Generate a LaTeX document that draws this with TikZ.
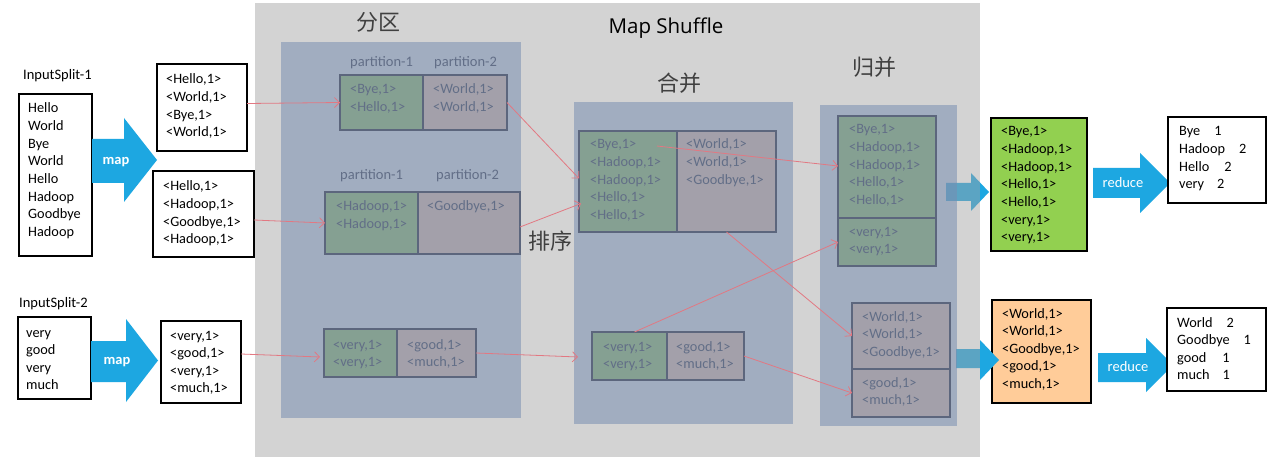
\documentclass[tikz,border=0pt]{standalone}
\usepackage{fontspec}
\setmainfont{Carlito}
\newfontfamily\titlefont{Open Sans}
\newfontfamily\cjk{Noto Sans CJK SC}
\usetikzlibrary{arrows.meta,calc}

\definecolor{flowblue}{RGB}{29,167,225}
\definecolor{shadegray}{RGB}{162,162,162}
\definecolor{panelblue}{RGB}{120,142,178}
\definecolor{keygreen}{RGB}{133,160,146}
\definecolor{keygray}{RGB}{163,160,170}
\definecolor{keyedge}{RGB}{92,102,125}
\definecolor{keytext}{RGB}{98,110,135}
\definecolor{linkred}{RGB}{226,120,130}
\definecolor{outgreen}{RGB}{146,208,80}
\definecolor{outorange}{RGB}{255,204,153}
\definecolor{cjkgray}{RGB}{64,64,64}

% rectangle node given by its corners (x1,y1) and (x2,y2)
\newcommand{\rbox}[6]{%
  \node[#6, anchor=north west, inner sep=0pt, outer sep=0pt,
        minimum width={(#4-#2)*1pt}, minimum height={(#5-#3)*1pt}] (#1) at (#2,#3) {};}
% block arrow: body x1..xh between yt..yb, head at xh between ht..hb, tip at xt
\newcommand{\blockarrow}[7]{%
  \fill[flowblue] (#1,#2) -- (#4,#2) -- (#4,#5) -- (#7,{(#5+#6)/2}) -- (#4,#6) -- (#4,#3) -- (#1,#3) -- cycle;}

\tikzset{
  plainbox/.style={draw=black, line width=1.3pt, fill=white},
  greenpart/.style={draw=keyedge, line width=1.5pt, fill=keygreen},
  graypart/.style={draw=keyedge, line width=1.5pt, fill=keygray},
  % text blocks are placed at the baseline of their first line;
  % nl=<n> moves the block so that n lines hang below that point
  txt/.style={inner sep=0pt, align=left, anchor=base west, font=\fontsize{14.3}{17.6}\selectfont},
  nl/.style={yshift={-(#1-1)*17.6pt}},
  ktxt/.style={txt, text=keytext},
  tagtext/.style={inner sep=0pt, anchor=base west, font=\fontsize{14.5}{17}\selectfont},
  cjklabel/.style={inner sep=0pt, font=\cjk\fontsize{22}{24}\selectfont, text=cjkgray},
  arrowlabel/.style={inner sep=0pt, text=white, font=\fontsize{14.5}{17}\selectfont},
  link/.style={draw=linkred, line width=0.8pt, -{Straight Barb[length=5pt,width=10pt]}}
}

\begin{document}
\begin{tikzpicture}[x=1pt, y=-1pt]
\useasboundingbox (0,0) rectangle (1280,457);
\fill[white] (0,0) rectangle (1280,457);

% ---------- output buffers (drawn first, the arrows overlap their edge) ----------
\rbox{outA}{991}{118}{1087}{251}{draw=black, line width=1.3pt, fill=outgreen}
\rbox{outB}{992}{300}{1091}{403}{draw=black, line width=1.3pt, fill=outorange}

% ---------- arrows leading out of the merge stage ----------
\blockarrow{946}{183}{201}{971}{173}{211}{989}
\blockarrow{956}{349}{368}{980}{340}{380}{999}

% ---------- shuffle area and its three stages ----------
\fill[shadegray, fill opacity=0.47] (255,3) rectangle (980,457);
\fill[panelblue, fill opacity=0.55] (281,42) rectangle (521,418);
\fill[panelblue, fill opacity=0.55] (574,102) rectangle (793,424);
\fill[panelblue, fill opacity=0.55] (820,105) rectangle (957,426);

\node[inner sep=0pt, font=\titlefont\fontsize{20.5}{24}\selectfont] (title) at (666,28) {Map Shuffle};
\node[cjklabel] (hPart) at (378,22) {分区};
\node[cjklabel] (hSort) at (550,241) {排序};
\node[cjklabel] (hCombine) at (679,83) {合并};
\node[cjklabel] (hMerge) at (874,67) {归并};

% ---------- input splits ----------
\node[tagtext] (s1title) at (23,80) {InputSplit-1};
\rbox{in1}{19}{94}{92}{256}{plainbox}
\node[txt, nl=8] (in1t) at (28,113) {Hello\\World\\Bye\\World\\Hello\\Hadoop\\Goodbye\\Hadoop};

\node[tagtext] (s2title) at (19,307) {InputSplit-2};
\rbox{in2}{18}{317}{91}{399}{plainbox}
\node[txt, nl=4] (in2t) at (26,337) {very\\good\\very\\much};

% map arrows
\blockarrow{92}{139}{183}{124}{118}{202}{157}
\node[arrowlabel, font=\bfseries\fontsize{14.5}{17}\selectfont] (map1) at (116,162) {map};
\blockarrow{91}{341}{382}{126}{319}{402}{158}
\node[arrowlabel, font=\bfseries\fontsize{14.5}{17}\selectfont] (map2) at (117,362) {map};

% map outputs
\rbox{b1a}{157}{64}{247}{151}{plainbox}
\node[txt, nl=4] (b1at) at (166,84) {<Hello,1>\\<World,1>\\<Bye,1>\\<World,1>};
\rbox{b1b}{153}{171}{254}{257}{plainbox}
\node[txt, nl=4] (b1bt) at (163,191) {<Hello,1>\\<Hadoop,1>\\<Goodbye,1>\\<Hadoop,1>};
\rbox{b2a}{161}{321}{241}{403}{plainbox}
\node[txt, nl=4] (b2at) at (170,340) {<very,1>\\<good,1>\\<very,1>\\<much,1>};

% ---------- partitions ----------
\node[tagtext, text=keytext] (p1h1) at (350,67) {partition-1};
\node[tagtext, text=keytext] (p1h2) at (434,67) {partition-2};
\rbox{p1l}{340}{75}{423}{130}{greenpart}
\rbox{p1r}{423}{75}{507}{130}{graypart}
\node[ktxt, nl=2] (p1lt) at (350,94) {<Bye,1>\\<Hello,1>};
\node[ktxt, nl=2] (p1rt) at (433,94) {<World,1>\\<World,1>};

\node[tagtext, text=keytext] (p2h1) at (340,180) {partition-1};
\node[tagtext, text=keytext] (p2h2) at (436,180) {partition-2};
\rbox{p2l}{325}{192}{418}{254}{greenpart}
\rbox{p2r}{418}{192}{520}{254}{graypart}
\node[ktxt, nl=2] (p2lt) at (336,211) {<Hadoop,1>\\<Hadoop,1>};
\node[ktxt] (p2rt) at (427,211) {<Goodbye,1>};

\rbox{p3l}{324}{329}{397}{377}{greenpart}
\rbox{p3r}{397}{329}{476}{377}{graypart}
\node[ktxt, nl=2] (p3lt) at (333,349) {<very,1>\\<very,1>};
\node[ktxt, nl=2] (p3rt) at (407,349) {<good,1>\\<much,1>};

% ---------- combine ----------
\rbox{m1l}{579}{131}{677}{232}{greenpart}
\rbox{m1r}{677}{131}{776}{232}{graypart}
\node[ktxt, nl=5] (m1lt) at (590,149) {<Bye,1>\\<Hadoop,1>\\<Hadoop,1>\\<Hello,1>\\<Hello,1>};
\node[ktxt, nl=3] (m1rt) at (686,149) {<World,1>\\<World,1>\\<Goodbye,1>};

\rbox{m2l}{592}{332}{667}{380}{greenpart}
\rbox{m2r}{667}{332}{744}{380}{graypart}
\node[ktxt, nl=2] (m2lt) at (603,351) {<very,1>\\<very,1>};
\node[ktxt, nl=2] (m2rt) at (676,351) {<good,1>\\<much,1>};

% ---------- merge ----------
\rbox{r1u}{838}{116}{936}{218}{greenpart}
\rbox{r1l}{838}{218}{936}{266}{greenpart}
\node[ktxt, nl=5] (r1ut) at (849,134) {<Bye,1>\\<Hadoop,1>\\<Hadoop,1>\\<Hello,1>\\<Hello,1>};
\node[ktxt, nl=2] (r1lt) at (849,236) {<very,1>\\<very,1>};

\rbox{r2u}{852}{303}{950}{369}{graypart}
\rbox{r2l}{852}{369}{950}{417}{graypart}
\node[ktxt, nl=3] (r2ut) at (862,321) {<World,1>\\<World,1>\\<Goodbye,1>};
\node[ktxt, nl=2] (r2lt) at (862,387) {<good,1>\\<much,1>};

% ---------- reduce ----------
\node[txt, nl=7] (outAt) at (1001,136) {<Bye,1>\\<Hadoop,1>\\<Hadoop,1>\\<Hello,1>\\<Hello,1>\\<very,1>\\<very,1>};
\node[txt, nl=5] (outBt) at (1002,318) {<World,1>\\<World,1>\\<Goodbye,1>\\<good,1>\\<much,1>};

\blockarrow{1093}{168}{198}{1140}{153}{213}{1170}
\node[arrowlabel] (red1) at (1123,183) {reduce};
\blockarrow{1098}{353}{382}{1146}{338}{392}{1173}
\node[arrowlabel] (red2) at (1128,367) {reduce};

\rbox{res1}{1168}{117}{1266}{203}{plainbox}
\node[txt, nl=4] (res1t) at (1179,136) {Bye\hspace{14pt}1\\Hadoop\hspace{14pt}2\\Hello\hspace{15pt}2\\very\hspace{13pt}2};
\rbox{res2}{1167}{308}{1266}{391}{plainbox}
\node[txt, nl=4] (res2t) at (1177,327) {World\hspace{14pt}2\\Goodbye\hspace{14pt}1\\good\hspace{16pt}1\\much\hspace{13pt}1};

% ---------- connectors ----------
\draw[link] ($(b1a.east)+(0,-4)$) -- (p1l.west);
\draw[link] ($(b1b.east)+(0,6)$) -- (p2l.west);
\draw[link] ($(b2a.east)+(0,-8)$) -- ($(p3l.west)+(-4,4)$);
\draw[link] (p1r.east) -- ($(m1l.west)+(0,-3)$);
\draw[link] ($(p2r.east)+(0,4)$) -- ($(m1l.west)+(2,22)$);
\draw[link] (p3r.east) -- ($(m2l.west)+(-14,1)$);
\draw[link] ($(m1l.north east)+(-20,15)$) -- ($(r1u.west)+(0,-1)$);
\draw[link] (m1r.south) -- (r2u.west);
\draw[link] ($(m2l.north)+(5,0)$) -- (r1l.west);
\draw[link] (m2r.east) -- (r2l.west);
\end{tikzpicture}
\end{document}
